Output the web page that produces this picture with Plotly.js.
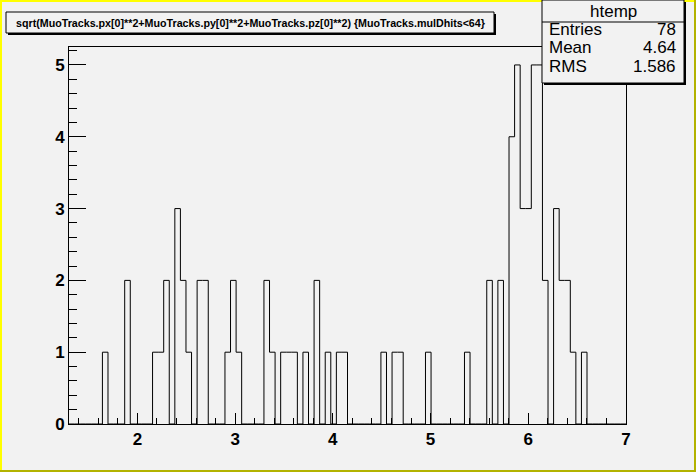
<!DOCTYPE html>
<html>
<head>
<meta charset="utf-8">
<script src="https://cdn.plot.ly/plotly-3.0.1.min.js"></script>
<style>
html,body{margin:0;padding:0;background:#f2f2f2;}
#chart{width:696px;height:472px;}
</style>
</head>
<body>
<div id="chart"></div>
<script>
// ---- data ----
const histName = "htemp";
const titleText = "sqrt(MuoTracks.px[0]**2+MuoTracks.py[0]**2+MuoTracks.pz[0]**2) {MuoTracks.mulDhits&lt;64}";
const xMin = 1.3;
const xMax = 7.0;
const nBins = 100;
const counts = [
  0,0,0,0,0,0,1,0,0,0,
  2,0,0,0,0,1,1,2,0,3,
  2,1,0,2,2,0,0,0,1,2,
  1,0,0,0,0,2,1,0,1,1,
  1,0,1,0,2,0,1,0,1,1,
  0,0,0,0,0,0,1,0,1,1,
  0,0,0,0,1,0,0,0,0,0,
  0,1,0,0,0,2,0,2,0,4,
  5,3,3,5,5,2,0,3,2,2,
  1,0,1,0,0,0,0,0,0,0
];
const statLabels = ["Entries", "Mean", "RMS"];
const statValues = ["78", "4.64", "1.586"];
const xTickVals = [2, 3, 4, 5, 6, 7];
const yTickVals = [0, 1, 2, 3, 4, 5];

// ---- build step outline ----
const binWidth = (xMax - xMin) / nBins;
const sx = [xMin], sy = [0];
for (let i = 0; i < nBins; i++) { sx.push(xMin + i * binWidth); sy.push(counts[i]); }
sx.push(xMax); sy.push(counts[nBins - 1]);
sx.push(xMax); sy.push(0);

// pixel helpers (frame geometry)
const L = 69, R = 626, T = 47, B = 424;
const px = p => (p - L) / (R - L);
const py = p => (B - p) / (B - T);

const font = "Liberation Sans, Arial, sans-serif";
const shapes = [];
const annotations = [];
function rect(x0, y0, x1, y1, fill, line, lw) {
  shapes.push({type:'rect', xref:'paper', yref:'paper', layer:'above',
    x0:px(x0), x1:px(x1), y0:py(y1), y1:py(y0),
    fillcolor: fill, line:{color: line || 'rgba(0,0,0,0)', width: lw || 0}});
}
function hline(x0, x1, y) {
  shapes.push({type:'line', xref:'paper', yref:'paper', layer:'above',
    x0:px(x0), x1:px(x1), y0:py(y), y1:py(y), line:{color:'black', width:1}});
}
// canvas border
rect(0, 0, 696, 2, '#ffff00');
rect(0, 0, 2, 472, '#ffff00');
rect(694, 0, 696, 472, '#b3b300');
rect(0, 470, 696, 472, '#b3b300');

// title box with shadow
rect(8, 14, 496, 35, 'black');
rect(6, 12, 494, 33, '#f2f2f2', 'black', 1);
annotations.push({xref:'paper', yref:'paper', x:px(250), y:py(22.5), xanchor:'center', yanchor:'middle',
  text:'<b>' + titleText + '</b>', showarrow:false, font:{family:font, size:10.7, color:'black'}});

// stat box with shadow
rect(544, 2, 686, 85, 'black');
rect(542, 0, 684, 83, '#f2f2f2', 'black', 1);
hline(542, 684, 22);
annotations.push({xref:'paper', yref:'paper', x:px(613), y:py(11.5), xanchor:'center', yanchor:'middle',
  text: histName, showarrow:false, font:{family:font, size:17, color:'black'}});
const rowY = [29.5, 47.5, 66];
for (let i = 0; i < statLabels.length; i++) {
  annotations.push({xref:'paper', yref:'paper', x:px(547), y:py(rowY[i]), xanchor:'left', yanchor:'middle',
    text: statLabels[i], showarrow:false, font:{family:font, size:17, color:'black'}});
  annotations.push({xref:'paper', yref:'paper', x:px(678), y:py(rowY[i]), xanchor:'right', yanchor:'middle',
    text: statValues[i], showarrow:false, font:{family:font, size:17, color:'black'}});
}

const trace = {
  x: sx, y: sy, type:'scatter', mode:'lines',
  line:{shape:'hv', color:'black', width:1},
  hoverinfo:'skip', showlegend:false
};

const layout = {
  width:696, height:472,
  margin:{l:L, r:696-R, t:T, b:472-B, pad:0},
  paper_bgcolor:'#f2f2f2', plot_bgcolor:'#f2f2f2',
  showlegend:false,
  xaxis:{range:[xMin, xMax], tickvals:xTickVals, ticks:'inside', ticklen:11, tickcolor:'black',
    showline:true, mirror:true, linecolor:'black', linewidth:1, showgrid:false, zeroline:false,
    tickfont:{family:font, size:17, color:'black', weight:'bold'},
    minor:{dtick:0.2, tick0:0, ticks:'inside', ticklen:6, tickcolor:'black', showgrid:false}},
  yaxis:{range:[0, 5.25], tickvals:yTickVals, ticks:'inside', ticklen:17, tickcolor:'black',
    showline:true, mirror:true, linecolor:'black', linewidth:1, showgrid:false, zeroline:false,
    tickfont:{family:font, size:17, color:'black', weight:'bold'},
    minor:{dtick:0.2, tick0:0, ticks:'inside', ticklen:8, tickcolor:'black', showgrid:false}},
  shapes: shapes,
  annotations: annotations
};

Plotly.newPlot('chart', [trace], layout, {staticPlot:true, displayModeBar:false});
</script>
</body>
</html>
